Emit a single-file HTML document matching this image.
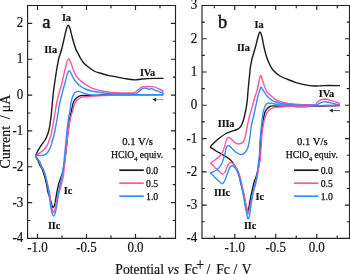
<!DOCTYPE html>
<html><head><meta charset="utf-8"><title>CV</title>
<style>html,body{margin:0;padding:0;background:#fff}</style></head>
<body>
<svg width="350" height="274" viewBox="0 0 350 274" style="display:block;font-family:'Liberation Serif',serif" fill="none">
<rect width="350" height="274" fill="#fff"/>
<g>
<path d="M35.80,155.60C36.03,155.00 36.57,153.30 37.20,152.00C37.83,150.70 38.80,149.10 39.60,147.80C40.40,146.50 41.10,145.50 42.00,144.20C42.90,142.90 44.17,141.37 45.00,140.00C45.83,138.63 46.33,137.67 47.00,136.00C47.67,134.33 48.40,132.67 49.00,130.00C49.60,127.33 50.10,123.83 50.60,120.00C51.10,116.17 51.60,111.00 52.00,107.00C52.40,103.00 52.63,99.50 53.00,96.00C53.37,92.50 53.80,89.00 54.20,86.00C54.60,83.00 55.00,80.67 55.40,78.00C55.80,75.33 56.22,72.33 56.60,70.00C56.98,67.67 57.32,66.00 57.70,64.00C58.08,62.00 58.35,60.08 58.90,58.00C59.45,55.92 60.35,53.75 61.00,51.50C61.65,49.25 62.18,47.08 62.80,44.50C63.42,41.92 64.08,38.62 64.70,36.00C65.32,33.38 65.90,30.60 66.50,28.80C67.10,27.00 67.70,25.20 68.30,25.20C68.90,25.20 69.50,27.00 70.10,28.80C70.70,30.60 71.20,33.38 71.90,36.00C72.60,38.62 73.60,42.18 74.30,44.50C75.00,46.82 75.60,48.65 76.10,49.90C76.60,51.15 76.60,50.65 77.30,52.00C78.00,53.35 79.27,56.20 80.30,58.00C81.33,59.80 82.47,61.55 83.50,62.80C84.53,64.05 84.75,64.13 86.50,65.50C88.25,66.87 91.42,69.65 94.00,71.00C96.58,72.35 99.50,72.83 102.00,73.60C104.50,74.37 106.83,75.10 109.00,75.60C111.17,76.10 112.33,76.10 115.00,76.60C117.67,77.10 121.70,78.05 125.00,78.60C128.30,79.15 131.97,79.83 134.80,79.90C137.63,79.97 138.80,79.25 142.00,79.00C145.20,78.75 150.48,78.50 154.00,78.40C157.52,78.30 161.58,78.40 163.10,78.40" stroke="#1a1a1a" stroke-width="1.40" stroke-linejoin="round" stroke-linecap="round"/>
<path d="M162.80,94.60C157.33,94.63 140.22,94.73 130.00,94.80C119.78,94.87 108.17,94.87 101.50,95.00C94.83,95.13 93.10,95.53 90.00,95.60C86.90,95.67 84.68,95.30 82.90,95.40C81.12,95.50 80.52,95.65 79.30,96.20C78.08,96.75 76.62,97.58 75.60,98.70C74.58,99.82 73.90,100.80 73.20,102.90C72.50,105.00 71.93,108.95 71.40,111.30C70.87,113.65 70.43,114.55 70.00,117.00C69.57,119.45 69.20,122.83 68.80,126.00C68.40,129.17 67.97,132.67 67.60,136.00C67.23,139.33 66.97,142.67 66.60,146.00C66.23,149.33 65.83,152.67 65.40,156.00C64.97,159.33 64.48,163.17 64.00,166.00C63.52,168.83 63.02,171.07 62.50,173.00C61.98,174.93 61.47,176.03 60.90,177.60C60.33,179.17 59.60,180.78 59.10,182.40C58.60,184.02 58.30,185.48 57.90,187.30C57.50,189.12 57.07,191.30 56.70,193.30C56.33,195.30 56.00,197.52 55.70,199.30C55.40,201.08 55.34,202.62 54.90,204.00C54.46,205.38 53.57,207.43 53.05,207.60C52.53,207.77 52.27,206.43 51.80,205.00C51.32,203.57 50.83,201.17 50.20,199.00C49.57,196.83 48.63,194.57 48.00,192.00C47.37,189.43 46.97,186.20 46.40,183.60C45.83,181.00 45.30,178.83 44.60,176.40C43.90,173.97 42.93,170.75 42.20,169.00C41.47,167.25 40.83,167.12 40.20,165.90C39.57,164.68 39.10,163.12 38.40,161.70C37.70,160.28 36.43,158.42 36.00,157.40C35.57,156.38 35.83,155.90 35.80,155.60" stroke="#1a1a1a" stroke-width="1.40" stroke-linejoin="round" stroke-linecap="round"/>
<path d="M35.80,155.60C36.23,155.30 37.37,154.50 38.40,153.80C39.43,153.10 40.80,152.40 42.00,151.40C43.20,150.40 44.60,149.10 45.60,147.80C46.60,146.50 47.38,144.90 48.00,143.60C48.62,142.30 48.80,141.43 49.30,140.00C49.80,138.57 50.38,137.50 51.00,135.00C51.62,132.50 52.33,128.67 53.00,125.00C53.67,121.33 54.42,116.50 55.00,113.00C55.58,109.50 55.92,107.00 56.50,104.00C57.08,101.00 57.75,97.92 58.50,95.00C59.25,92.08 60.25,89.25 61.00,86.50C61.75,83.75 62.35,81.25 63.00,78.50C63.65,75.75 64.28,72.62 64.90,70.00C65.52,67.38 66.07,64.70 66.70,62.80C67.33,60.90 68.00,58.60 68.70,58.60C69.40,58.60 70.13,60.90 70.90,62.80C71.67,64.70 72.40,67.80 73.30,70.00C74.20,72.20 75.47,74.58 76.30,76.00C77.13,77.42 77.42,77.57 78.30,78.50C79.18,79.43 80.32,80.58 81.60,81.60C82.88,82.62 84.38,83.57 86.00,84.60C87.62,85.63 88.72,86.77 91.30,87.80C93.88,88.83 98.55,90.07 101.50,90.80C104.45,91.53 106.75,91.90 109.00,92.20C111.25,92.50 112.33,92.47 115.00,92.60C117.67,92.73 122.00,92.93 125.00,93.00C128.00,93.07 131.37,93.12 133.00,93.00C134.63,92.88 133.90,92.87 134.80,92.30C135.70,91.73 137.20,90.48 138.40,89.60C139.60,88.72 140.80,87.50 142.00,87.00C143.20,86.50 143.98,86.67 145.60,86.60C147.22,86.53 150.08,86.50 151.70,86.60C153.32,86.70 154.10,86.80 155.30,87.20C156.50,87.60 157.67,88.43 158.90,89.00C160.13,89.57 162.07,90.33 162.70,90.60C162.72,91.35 162.78,94.35 162.80,95.10C160.67,95.10 155.47,95.12 150.00,95.10C144.53,95.08 136.67,94.95 130.00,95.00C123.33,95.05 114.75,95.30 110.00,95.40C105.25,95.50 104.83,95.40 101.50,95.60C98.17,95.80 92.92,96.40 90.00,96.60C87.08,96.80 85.68,96.57 84.00,96.80C82.32,97.03 81.10,97.38 79.90,98.00C78.70,98.62 77.72,99.50 76.80,100.50C75.88,101.50 75.10,102.20 74.40,104.00C73.70,105.80 73.25,108.97 72.60,111.30C71.95,113.63 71.20,114.88 70.50,118.00C69.80,121.12 68.98,126.00 68.40,130.00C67.82,134.00 67.38,138.73 67.00,142.00C66.62,145.27 66.45,146.32 66.10,149.60C65.75,152.88 65.30,157.88 64.90,161.70C64.50,165.52 63.97,170.05 63.70,172.50C63.43,174.95 63.57,174.95 63.30,176.40C63.03,177.85 62.60,179.18 62.10,181.20C61.60,183.22 60.83,186.62 60.30,188.50C59.77,190.38 59.27,191.30 58.90,192.50C58.53,193.70 58.43,194.37 58.10,195.70C57.77,197.03 57.27,199.20 56.90,200.50C56.53,201.80 56.23,201.92 55.90,203.50C55.57,205.08 55.33,208.50 54.90,210.00C54.47,211.50 53.78,212.67 53.30,212.50C52.82,212.33 52.48,210.75 52.00,209.00C51.52,207.25 50.75,204.33 50.40,202.00C50.05,199.67 50.22,197.33 49.90,195.00C49.58,192.67 48.93,189.90 48.50,188.00C48.07,186.10 47.80,185.53 47.30,183.60C46.80,181.67 46.13,178.67 45.50,176.40C44.87,174.13 44.23,171.75 43.50,170.00C42.77,168.25 41.80,167.28 41.10,165.90C40.40,164.52 40.15,163.12 39.30,161.70C38.45,160.28 36.58,158.42 36.00,157.40C35.42,156.38 35.83,155.90 35.80,155.60" stroke="#ff55a2" stroke-width="1.40" stroke-linejoin="round" stroke-linecap="round"/>
<path d="M35.80,155.60C36.23,155.57 37.37,155.43 38.40,155.40C39.43,155.37 40.80,155.57 42.00,155.40C43.20,155.23 44.60,154.97 45.60,154.40C46.60,153.83 47.28,153.00 48.00,152.00C48.72,151.00 49.28,149.80 49.90,148.40C50.52,147.00 51.27,145.00 51.70,143.60C52.13,142.20 52.12,141.43 52.50,140.00C52.88,138.57 53.42,137.50 54.00,135.00C54.58,132.50 55.33,128.58 56.00,125.00C56.67,121.42 57.42,117.00 58.00,113.50C58.58,110.00 58.97,106.75 59.50,104.00C60.03,101.25 60.62,99.33 61.20,97.00C61.78,94.67 62.37,92.33 63.00,90.00C63.63,87.67 64.33,85.50 65.00,83.00C65.67,80.50 66.32,77.05 67.00,75.00C67.68,72.95 68.35,70.82 69.10,70.70C69.85,70.58 70.80,73.08 71.50,74.30C72.20,75.52 72.62,76.80 73.30,78.00C73.98,79.20 74.50,80.20 75.60,81.50C76.70,82.80 78.28,84.55 79.90,85.80C81.52,87.05 83.40,88.13 85.30,89.00C87.20,89.87 88.60,90.40 91.30,91.00C94.00,91.60 98.55,92.20 101.50,92.60C104.45,93.00 105.92,93.23 109.00,93.40C112.08,93.57 116.00,93.57 120.00,93.60C124.00,93.63 130.33,93.57 133.00,93.60C135.67,93.63 134.90,94.27 136.00,93.80C137.10,93.33 138.40,91.72 139.60,90.80C140.80,89.88 142.00,88.72 143.20,88.30C144.40,87.88 145.78,88.13 146.80,88.30C147.82,88.47 148.48,89.25 149.30,89.30C150.12,89.35 150.70,88.45 151.70,88.60C152.70,88.75 154.10,89.68 155.30,90.20C156.50,90.72 157.67,91.23 158.90,91.70C160.13,92.17 162.07,92.78 162.70,93.00C162.72,93.25 162.78,94.25 162.80,94.50C160.67,94.52 155.47,94.57 150.00,94.60C144.53,94.63 136.67,94.63 130.00,94.70C123.33,94.77 114.75,94.88 110.00,95.00C105.25,95.12 104.83,95.45 101.50,95.40C98.17,95.35 92.92,95.07 90.00,94.70C87.08,94.33 85.90,93.75 84.00,93.20C82.10,92.65 80.10,91.50 78.60,91.40C77.10,91.30 76.00,91.70 75.00,92.60C74.00,93.50 73.27,95.08 72.60,96.80C71.93,98.52 71.45,100.48 71.00,102.90C70.55,105.32 70.30,108.78 69.90,111.30C69.50,113.82 69.08,114.88 68.60,118.00C68.12,121.12 67.42,126.33 67.00,130.00C66.58,133.67 66.45,136.33 66.10,140.00C65.75,143.67 65.30,148.00 64.90,152.00C64.50,156.00 64.10,160.58 63.70,164.00C63.30,167.42 62.87,170.03 62.50,172.50C62.13,174.97 61.87,176.95 61.50,178.80C61.13,180.65 60.70,181.78 60.30,183.60C59.90,185.42 59.50,187.30 59.10,189.70C58.70,192.10 58.30,195.22 57.90,198.00C57.50,200.78 57.15,203.90 56.70,206.40C56.25,208.90 55.71,211.38 55.20,213.00C54.69,214.62 54.17,216.10 53.65,216.10C53.13,216.10 52.61,214.62 52.10,213.00C51.59,211.38 50.98,208.70 50.60,206.40C50.22,204.10 50.15,201.78 49.80,199.20C49.45,196.62 48.95,193.60 48.50,190.90C48.05,188.20 47.52,185.23 47.10,183.00C46.68,180.77 46.37,179.08 46.00,177.50C45.63,175.92 45.33,174.83 44.90,173.50C44.47,172.17 43.98,170.77 43.40,169.50C42.82,168.23 42.03,167.20 41.40,165.90C40.77,164.60 40.30,163.02 39.60,161.70C38.90,160.38 37.83,159.02 37.20,158.00C36.57,156.98 36.03,156.00 35.80,155.60" stroke="#308fff" stroke-width="1.40" stroke-linejoin="round" stroke-linecap="round"/>
<path d="M210.40,147.40C210.53,147.12 210.77,146.30 211.20,145.70C211.63,145.10 212.30,144.48 213.00,143.80C213.70,143.12 214.27,142.60 215.40,141.60C216.53,140.60 218.03,139.15 219.80,137.80C221.57,136.45 223.97,134.62 226.00,133.50C228.03,132.38 230.17,131.77 232.00,131.10C233.83,130.43 235.73,130.07 237.00,129.50C238.27,128.93 238.80,128.53 239.60,127.70C240.40,126.87 241.08,126.03 241.80,124.50C242.52,122.97 243.27,120.75 243.90,118.50C244.53,116.25 245.17,113.08 245.60,111.00C246.03,108.92 246.22,107.83 246.50,106.00C246.78,104.17 247.02,102.83 247.30,100.00C247.58,97.17 247.85,92.83 248.20,89.00C248.55,85.17 249.03,80.67 249.40,77.00C249.77,73.33 249.97,70.00 250.40,67.00C250.83,64.00 251.40,61.50 252.00,59.00C252.60,56.50 253.33,54.33 254.00,52.00C254.67,49.67 255.33,47.50 256.00,45.00C256.67,42.50 257.33,39.17 258.00,37.00C258.67,34.83 259.33,32.00 260.00,32.00C260.67,32.00 261.33,34.50 262.00,37.00C262.67,39.50 263.33,44.00 264.00,47.00C264.67,50.00 265.17,52.33 266.00,55.00C266.83,57.67 267.83,60.50 269.00,63.00C270.17,65.50 271.17,67.83 273.00,70.00C274.83,72.17 277.50,74.42 280.00,76.00C282.50,77.58 285.33,78.40 288.00,79.50C290.67,80.60 293.33,81.75 296.00,82.60C298.67,83.45 301.00,84.03 304.00,84.60C307.00,85.17 310.67,85.83 314.00,86.00C317.33,86.17 319.77,85.67 324.00,85.60C328.23,85.53 336.83,85.60 339.40,85.60" stroke="#1a1a1a" stroke-width="1.40" stroke-linejoin="round" stroke-linecap="round"/>
<path d="M339.30,105.50C332.58,105.68 306.97,106.58 299.00,106.60C291.03,106.62 294.85,105.67 291.50,105.60C288.15,105.53 282.00,106.15 278.90,106.20C275.80,106.25 274.50,105.80 272.90,105.90C271.30,106.00 270.42,106.13 269.30,106.80C268.18,107.47 267.02,108.70 266.20,109.90C265.38,111.10 264.93,111.90 264.40,114.00C263.87,116.10 263.40,120.17 263.00,122.50C262.60,124.83 262.33,125.75 262.00,128.00C261.67,130.25 261.30,132.67 261.00,136.00C260.70,139.33 260.43,144.17 260.20,148.00C259.97,151.83 259.83,156.00 259.60,159.00C259.37,162.00 259.15,163.83 258.80,166.00C258.45,168.17 257.97,170.17 257.50,172.00C257.03,173.83 256.52,175.50 256.00,177.00C255.48,178.50 254.90,179.33 254.40,181.00C253.90,182.67 253.47,185.00 253.00,187.00C252.53,189.00 252.10,190.67 251.60,193.00C251.10,195.33 250.50,198.33 250.00,201.00C249.50,203.67 249.00,207.17 248.60,209.00C248.20,210.83 248.00,212.33 247.60,212.00C247.20,211.67 246.80,209.67 246.20,207.00C245.60,204.33 244.65,199.00 244.00,196.00C243.35,193.00 242.88,191.33 242.30,189.00C241.72,186.67 241.13,184.50 240.50,182.00C239.87,179.50 239.42,176.58 238.50,174.00C237.58,171.42 236.08,168.57 235.00,166.50C233.92,164.43 233.17,163.02 232.00,161.60C230.83,160.18 229.67,159.20 228.00,158.00C226.33,156.80 224.00,155.57 222.00,154.40C220.00,153.23 217.93,152.18 216.00,151.00C214.07,149.82 211.33,147.92 210.40,147.30" stroke="#1a1a1a" stroke-width="1.40" stroke-linejoin="round" stroke-linecap="round"/>
<path d="M210.40,163.00C211.17,162.50 213.40,161.17 215.00,160.00C216.60,158.83 218.67,157.50 220.00,156.00C221.33,154.50 222.17,152.78 223.00,151.00C223.83,149.22 224.45,147.05 225.00,145.30C225.55,143.55 225.87,141.78 226.30,140.50C226.73,139.22 227.07,138.05 227.60,137.60C228.13,137.15 228.93,137.57 229.50,137.80C230.07,138.03 230.08,138.20 231.00,139.00C231.92,139.80 233.67,141.77 235.00,142.60C236.33,143.43 237.67,144.10 239.00,144.00C240.33,143.90 241.95,143.25 243.00,142.00C244.05,140.75 244.58,139.17 245.30,136.50C246.02,133.83 246.55,129.58 247.30,126.00C248.05,122.42 248.95,118.33 249.80,115.00C250.65,111.67 251.62,108.83 252.40,106.00C253.18,103.17 253.80,100.33 254.50,98.00C255.20,95.67 256.02,94.00 256.60,92.00C257.18,90.00 257.57,87.92 258.00,86.00C258.43,84.08 258.77,82.23 259.20,80.50C259.63,78.77 260.17,76.02 260.60,75.60C261.03,75.18 261.40,76.93 261.80,78.00C262.20,79.07 262.30,80.00 263.00,82.00C263.70,84.00 265.08,88.08 266.00,90.00C266.92,91.92 267.67,92.55 268.50,93.50C269.33,94.45 269.75,94.65 271.00,95.70C272.25,96.75 273.83,98.62 276.00,99.80C278.17,100.98 281.42,102.13 284.00,102.80C286.58,103.47 289.00,103.52 291.50,103.80C294.00,104.08 296.92,104.37 299.00,104.50C301.08,104.63 301.33,104.58 304.00,104.60C306.67,104.62 312.83,104.93 315.00,104.60C317.17,104.27 316.17,103.33 317.00,102.60C317.83,101.87 319.00,100.75 320.00,100.20C321.00,99.65 322.00,99.45 323.00,99.30C324.00,99.15 324.83,99.17 326.00,99.30C327.17,99.43 328.50,99.72 330.00,100.10C331.50,100.48 333.45,101.10 335.00,101.60C336.55,102.10 338.58,102.85 339.30,103.10C339.30,103.52 339.30,105.18 339.30,105.60C336.08,105.60 326.72,105.40 320.00,105.60C313.28,105.80 303.75,106.70 299.00,106.80C294.25,106.90 294.85,106.15 291.50,106.20C288.15,106.25 282.00,106.83 278.90,107.10C275.80,107.37 274.50,107.33 272.90,107.80C271.30,108.27 270.37,108.95 269.30,109.90C268.23,110.85 267.25,112.00 266.50,113.50C265.75,115.00 265.28,117.32 264.80,118.90C264.32,120.48 264.07,120.32 263.60,123.00C263.13,125.68 262.43,130.67 262.00,135.00C261.57,139.33 261.28,145.00 261.00,149.00C260.72,153.00 260.57,156.50 260.30,159.00C260.03,161.50 259.72,162.17 259.40,164.00C259.08,165.83 258.77,167.83 258.40,170.00C258.03,172.17 257.60,174.83 257.20,177.00C256.80,179.17 256.60,180.67 256.00,183.00C255.40,185.33 254.43,188.00 253.60,191.00C252.77,194.00 251.77,197.67 251.00,201.00C250.23,204.33 249.50,208.83 249.00,211.00C248.50,213.17 248.28,214.00 248.00,214.00C247.72,214.00 247.70,212.83 247.30,211.00C246.90,209.17 246.20,206.00 245.60,203.00C245.00,200.00 244.35,196.17 243.70,193.00C243.05,189.83 242.37,186.83 241.70,184.00C241.03,181.17 240.38,178.33 239.70,176.00C239.02,173.67 238.33,171.63 237.60,170.00C236.87,168.37 236.07,167.27 235.30,166.20C234.53,165.13 233.78,164.20 233.00,163.60C232.22,163.00 231.35,162.53 230.60,162.60C229.85,162.67 229.17,163.10 228.50,164.00C227.83,164.90 227.18,166.67 226.60,168.00C226.02,169.33 225.63,170.97 225.00,172.00C224.37,173.03 223.63,174.15 222.80,174.20C221.97,174.25 221.13,173.23 220.00,172.30C218.87,171.37 217.25,169.82 216.00,168.60C214.75,167.38 213.43,165.93 212.50,165.00C211.57,164.07 210.75,163.33 210.40,163.00" stroke="#ff55a2" stroke-width="1.40" stroke-linejoin="round" stroke-linecap="round"/>
<path d="M210.40,173.00C211.00,172.73 212.67,172.17 214.00,171.40C215.33,170.63 217.07,169.80 218.40,168.40C219.73,167.00 221.00,165.07 222.00,163.00C223.00,160.93 223.77,158.20 224.40,156.00C225.03,153.80 225.37,151.35 225.80,149.80C226.23,148.25 226.58,147.42 227.00,146.70C227.42,145.98 227.82,145.57 228.30,145.50C228.78,145.43 229.32,145.83 229.90,146.30C230.48,146.77 230.72,147.27 231.80,148.30C232.88,149.33 234.83,151.45 236.40,152.50C237.97,153.55 239.77,154.58 241.20,154.60C242.63,154.62 243.87,153.82 245.00,152.60C246.13,151.38 247.18,149.90 248.00,147.30C248.82,144.70 249.32,140.72 249.90,137.00C250.48,133.28 250.97,128.17 251.50,125.00C252.03,121.83 252.45,120.83 253.10,118.00C253.75,115.17 254.67,111.33 255.40,108.00C256.13,104.67 256.87,100.67 257.50,98.00C258.13,95.33 258.62,93.83 259.20,92.00C259.78,90.17 260.45,87.42 261.00,87.00C261.55,86.58 262.00,88.75 262.50,89.50C263.00,90.25 263.17,90.33 264.00,91.50C264.83,92.67 266.17,95.03 267.50,96.50C268.83,97.97 270.58,99.38 272.00,100.30C273.42,101.22 274.50,101.48 276.00,102.00C277.50,102.52 278.42,102.95 281.00,103.40C283.58,103.85 288.50,104.40 291.50,104.70C294.50,105.00 295.08,105.15 299.00,105.20C302.92,105.25 311.83,105.15 315.00,105.00C318.17,104.85 317.00,104.70 318.00,104.30C319.00,103.90 320.00,103.00 321.00,102.60C322.00,102.20 322.83,101.95 324.00,101.90C325.17,101.85 326.67,102.10 328.00,102.30C329.33,102.50 330.67,102.80 332.00,103.10C333.33,103.40 334.78,103.80 336.00,104.10C337.22,104.40 338.75,104.77 339.30,104.90C339.30,104.98 339.30,105.32 339.30,105.40C336.08,105.43 326.55,105.57 320.00,105.60C313.45,105.63 304.75,105.63 300.00,105.60C295.25,105.57 294.62,105.50 291.50,105.40C288.38,105.30 284.22,105.27 281.30,105.00C278.38,104.73 276.12,104.13 274.00,103.80C271.88,103.47 270.00,102.80 268.60,103.00C267.20,103.20 266.40,103.85 265.60,105.00C264.80,106.15 264.30,108.18 263.80,109.90C263.30,111.62 262.93,113.20 262.60,115.30C262.27,117.40 262.10,119.72 261.80,122.50C261.50,125.28 261.10,128.92 260.80,132.00C260.50,135.08 260.20,137.67 260.00,141.00C259.80,144.33 259.80,148.83 259.60,152.00C259.40,155.17 259.07,157.67 258.80,160.00C258.53,162.33 258.30,163.50 258.00,166.00C257.70,168.50 257.50,172.00 257.00,175.00C256.50,178.00 255.67,181.00 255.00,184.00C254.33,187.00 253.67,189.50 253.00,193.00C252.33,196.50 251.57,201.33 251.00,205.00C250.43,208.67 250.10,212.67 249.60,215.00C249.10,217.33 248.43,219.00 248.00,219.00C247.57,219.00 247.50,217.33 247.00,215.00C246.50,212.67 245.67,208.67 245.00,205.00C244.33,201.33 243.67,196.67 243.00,193.00C242.33,189.33 241.67,186.00 241.00,183.00C240.33,180.00 239.67,177.17 239.00,175.00C238.33,172.83 238.00,171.50 237.00,170.00C236.00,168.50 234.17,166.50 233.00,166.00C231.83,165.50 230.83,166.00 230.00,167.00C229.17,168.00 228.83,169.83 228.00,172.00C227.17,174.17 225.95,178.05 225.00,180.00C224.05,181.95 223.30,183.50 222.30,183.70C221.30,183.90 220.22,182.25 219.00,181.20C217.78,180.15 216.43,178.77 215.00,177.40C213.57,176.03 211.17,173.73 210.40,173.00" stroke="#308fff" stroke-width="1.40" stroke-linejoin="round" stroke-linecap="round"/>
</g>
<path d="M27.60,5.45 H175.50 V238.40 H27.60 Z M37.50,238.40 v-4.6 M37.50,5.45 v4.6 M86.50,238.40 v-4.6 M86.50,5.45 v4.6 M135.50,238.40 v-4.6 M135.50,5.45 v4.6 M62.00,238.40 v-2.8 M62.00,5.45 v2.8 M111.00,238.40 v-2.8 M111.00,5.45 v2.8 M160.00,238.40 v-2.8 M160.00,5.45 v2.8 M27.60,23.37 h4.6 M175.50,23.37 h-4.6 M27.60,59.21 h4.6 M175.50,59.21 h-4.6 M27.60,95.05 h4.6 M175.50,95.05 h-4.6 M27.60,130.88 h4.6 M175.50,130.88 h-4.6 M27.60,166.72 h4.6 M175.50,166.72 h-4.6 M27.60,202.56 h4.6 M175.50,202.56 h-4.6 M27.60,41.29 h2.8 M175.50,41.29 h-2.8 M27.60,77.13 h2.8 M175.50,77.13 h-2.8 M27.60,112.97 h2.8 M175.50,112.97 h-2.8 M27.60,148.80 h2.8 M175.50,148.80 h-2.8 M27.60,184.64 h2.8 M175.50,184.64 h-2.8 M27.60,220.48 h2.8 M175.50,220.48 h-2.8" stroke="#222" stroke-width="1.15" stroke-linecap="butt"/>
<path d="M202.00,5.45 H349.50 V238.40 H202.00 Z M234.80,238.40 v-4.6 M234.80,5.45 v4.6 M275.77,238.40 v-4.6 M275.77,5.45 v4.6 M316.75,238.40 v-4.6 M316.75,5.45 v4.6 M214.31,238.40 v-2.8 M214.31,5.45 v2.8 M255.29,238.40 v-2.8 M255.29,5.45 v2.8 M296.26,238.40 v-2.8 M296.26,5.45 v2.8 M337.24,238.40 v-2.8 M337.24,5.45 v2.8 M202.00,38.73 h4.6 M349.50,38.73 h-4.6 M202.00,72.01 h4.6 M349.50,72.01 h-4.6 M202.00,105.29 h4.6 M349.50,105.29 h-4.6 M202.00,138.56 h4.6 M349.50,138.56 h-4.6 M202.00,171.84 h4.6 M349.50,171.84 h-4.6 M202.00,205.12 h4.6 M349.50,205.12 h-4.6 M202.00,22.09 h2.8 M349.50,22.09 h-2.8 M202.00,55.37 h2.8 M349.50,55.37 h-2.8 M202.00,88.65 h2.8 M349.50,88.65 h-2.8 M202.00,121.92 h2.8 M349.50,121.92 h-2.8 M202.00,155.20 h2.8 M349.50,155.20 h-2.8 M202.00,188.48 h2.8 M349.50,188.48 h-2.8 M202.00,221.76 h2.8 M349.50,221.76 h-2.8" stroke="#222" stroke-width="1.15" stroke-linecap="butt"/>
<g fill="#111" stroke="#111" stroke-width="0.18">
<text transform="translate(23.3,27.32) scale(1,1.15)" font-size="13" text-anchor="end">2</text>
<text transform="translate(23.3,63.16) scale(1,1.15)" font-size="13" text-anchor="end">1</text>
<text transform="translate(23.3,99.00) scale(1,1.15)" font-size="13" text-anchor="end">0</text>
<text transform="translate(23.3,134.83) scale(1,1.15)" font-size="13" text-anchor="end">-1</text>
<text transform="translate(23.3,170.67) scale(1,1.15)" font-size="13" text-anchor="end">-2</text>
<text transform="translate(23.3,206.51) scale(1,1.15)" font-size="13" text-anchor="end">-3</text>
<text transform="translate(23.3,242.35) scale(1,1.15)" font-size="13" text-anchor="end">-4</text>
<text transform="translate(197.3,9.40) scale(1,1.15)" font-size="13" text-anchor="end">3</text>
<text transform="translate(197.3,42.68) scale(1,1.15)" font-size="13" text-anchor="end">2</text>
<text transform="translate(197.3,75.96) scale(1,1.15)" font-size="13" text-anchor="end">1</text>
<text transform="translate(197.3,109.24) scale(1,1.15)" font-size="13" text-anchor="end">0</text>
<text transform="translate(197.3,142.51) scale(1,1.15)" font-size="13" text-anchor="end">-1</text>
<text transform="translate(197.3,175.79) scale(1,1.15)" font-size="13" text-anchor="end">-2</text>
<text transform="translate(197.3,209.07) scale(1,1.15)" font-size="13" text-anchor="end">-3</text>
<text transform="translate(197.3,242.35) scale(1,1.15)" font-size="13" text-anchor="end">-4</text>
<text transform="translate(37.50,252.4) scale(1,1.15)" font-size="13" text-anchor="middle">-1.0</text>
<text transform="translate(234.80,252.4) scale(1,1.15)" font-size="13" text-anchor="middle">-1.0</text>
<text transform="translate(86.50,252.4) scale(1,1.15)" font-size="13" text-anchor="middle">-0.5</text>
<text transform="translate(275.77,252.4) scale(1,1.15)" font-size="13" text-anchor="middle">-0.5</text>
<text transform="translate(135.50,252.4) scale(1,1.15)" font-size="13" text-anchor="middle">0.0</text>
<text transform="translate(316.75,252.4) scale(1,1.15)" font-size="13" text-anchor="middle">0.0</text>
<text transform="translate(115.3,274.2) scale(1,1.13)" font-size="13.7">Potential</text>
<text transform="translate(167.6,274.2) scale(1,1.13)" font-size="13.7" font-style="italic">vs</text>
<text transform="translate(184.2,274.2) scale(1,1.13)" font-size="13.7">Fc</text>
<text transform="translate(196.2,269.6) scale(1,1.13)" font-size="14.0">+</text>
<text transform="translate(206.6,274.2) scale(1,1.13)" font-size="13.7">/</text>
<text transform="translate(216.2,274.2) scale(1,1.13)" font-size="13.7">Fc</text>
<text transform="translate(233.6,274.2) scale(1,1.13)" font-size="13.7">/</text>
<text transform="translate(241.8,274.2) scale(1,1.13)" font-size="13.7">V</text>
<text transform="translate(10.2,168.6) rotate(-90)" font-size="14">Current</text>
<text transform="translate(10.2,119.2) rotate(-90)" font-size="14">/</text>
<text transform="translate(10.2,112.3) rotate(-90)" font-size="14">μA</text>
<text x="42.2" y="28.4" font-size="18.5" stroke-width="0.45">a</text>
<text x="218" y="28.2" font-size="18.5" stroke-width="0.45">b</text>
<text x="62.0" y="21.3" font-size="10.3" font-weight="bold" letter-spacing="-0.15">Ia</text>
<text x="44.2" y="53.3" font-size="10.3" font-weight="bold" letter-spacing="-0.15">IIa</text>
<text x="139.9" y="75.6" font-size="10.3" font-weight="bold" letter-spacing="-0.15">IVa</text>
<text x="63.8" y="194.3" font-size="10.3" font-weight="bold" letter-spacing="-0.15">Ic</text>
<text x="48.0" y="228.8" font-size="10.3" font-weight="bold" letter-spacing="-0.15">IIc</text>
<text x="254.6" y="27.6" font-size="10.3" font-weight="bold" letter-spacing="-0.15">Ia</text>
<text x="237.0" y="50.6" font-size="10.3" font-weight="bold" letter-spacing="-0.15">IIa</text>
<text x="318.8" y="96.8" font-size="10.3" font-weight="bold" letter-spacing="-0.15">IVa</text>
<text x="217.8" y="126.8" font-size="10.3" font-weight="bold" letter-spacing="-0.15">IIIa</text>
<text x="214.0" y="196.2" font-size="10.3" font-weight="bold" letter-spacing="-0.15">IIIc</text>
<text x="255.6" y="199.8" font-size="10.3" font-weight="bold" letter-spacing="-0.15">Ic</text>
<text x="244.0" y="229.4" font-size="10.3" font-weight="bold" letter-spacing="-0.15">IIc</text>
<text x="122.3" y="144.6" font-size="10" stroke="#111" stroke-width="0.25" textLength="30.6" lengthAdjust="spacingAndGlyphs">0.1 V/s</text>
<text x="111.0" y="157.7" font-size="10" stroke="#111" stroke-width="0.25" textLength="52.2" lengthAdjust="spacingAndGlyphs">HClO<tspan dy="2.8" font-size="6.5">4</tspan><tspan dy="-2.8"> equiv.</tspan></text>
<path d="M119.3,170.2 H143.8" stroke="#1a1a1a" stroke-width="1.7"/>
<text x="146.0" y="173.5" font-size="10" stroke="#111" stroke-width="0.25" textLength="12.2" lengthAdjust="spacingAndGlyphs">0.0</text>
<path d="M119.3,183.2 H143.8" stroke="#ff55a2" stroke-width="1.7"/>
<text x="146.0" y="186.5" font-size="10" stroke="#111" stroke-width="0.25" textLength="12.2" lengthAdjust="spacingAndGlyphs">0.5</text>
<path d="M119.3,196.2 H143.8" stroke="#308fff" stroke-width="1.7"/>
<text x="146.0" y="199.5" font-size="10" stroke="#111" stroke-width="0.25" textLength="12.2" lengthAdjust="spacingAndGlyphs">1.0</text>
<text x="297.0" y="144.6" font-size="10" stroke="#111" stroke-width="0.25" textLength="30.6" lengthAdjust="spacingAndGlyphs">0.1 V/s</text>
<text x="285.7" y="157.7" font-size="10" stroke="#111" stroke-width="0.25" textLength="52.2" lengthAdjust="spacingAndGlyphs">HClO<tspan dy="2.8" font-size="6.5">4</tspan><tspan dy="-2.8"> equiv.</tspan></text>
<path d="M294.0,170.2 H318.5" stroke="#1a1a1a" stroke-width="1.7"/>
<text x="320.7" y="173.5" font-size="10" stroke="#111" stroke-width="0.25" textLength="12.2" lengthAdjust="spacingAndGlyphs">0.0</text>
<path d="M294.0,183.2 H318.5" stroke="#ff55a2" stroke-width="1.7"/>
<text x="320.7" y="186.5" font-size="10" stroke="#111" stroke-width="0.25" textLength="12.2" lengthAdjust="spacingAndGlyphs">0.5</text>
<path d="M294.0,196.2 H318.5" stroke="#308fff" stroke-width="1.7"/>
<text x="320.7" y="199.5" font-size="10" stroke="#111" stroke-width="0.25" textLength="12.2" lengthAdjust="spacingAndGlyphs">1.0</text>
</g>
<path d="M155.3,99.6 H163.5" stroke="#b4b4b4" stroke-width="1.5"/>
<path d="M152.3,99.6 l3.8,-1.9 v3.8 z" fill="#222"/>
<path d="M332.0,110.6 H340.0" stroke="#555" stroke-width="1.0"/>
<path d="M329.0,110.6 l3.8,-1.9 v3.8 z" fill="#222"/>
</svg>
</body></html>
